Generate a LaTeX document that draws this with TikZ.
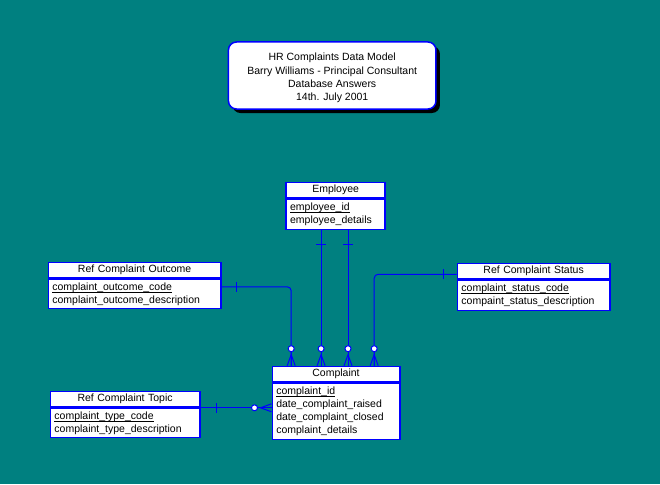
\documentclass[tikz,border=0pt]{standalone}
\usepackage{fontspec}
\setmainfont{Liberation Sans}
\usetikzlibrary{calc,shadows}

\definecolor{tealbg}{RGB}{0,128,128}
\definecolor{erblue}{RGB}{0,0,255}

% underlined key field, rule level with the underscores
\newsavebox{\keybox}
\newcommand{\keyfield}[1]{\sbox{\keybox}{#1}\rlap{\rule[-2.2pt]{\wd\keybox}{0.7pt}}\usebox{\keybox}}

\tikzset{
  ent/.style={draw=erblue, line width=1.5pt, fill=white, anchor=north west,
    inner xsep=4pt, inner ysep=0pt, font=\fontsize{10.5}{13}\selectfont},
  hdr/.style={ent, align=center, minimum height=15.6pt},
  body/.style={ent, align=left},
  rel/.style={erblue, line width=1pt},
  zeromany/.pic={
    \draw (-4pt,0pt) -- (0pt,11pt) -- (4pt,0pt);
    \draw (0pt,0pt) -- (0pt,14pt);
    \draw[fill=white] (0pt,17pt) circle (3pt);
  },
  onebar/.pic={\draw (-5pt,0pt) -- (5pt,0pt);}
}

\begin{document}
\begin{tikzpicture}[x=1pt,y=-1pt]
  % background
  \fill[tealbg] (0,0) rectangle (660,484);
  \useasboundingbox (0,0) rectangle (660,484);

  % title
  \node[draw=erblue, line width=1.5pt, fill=white, rounded corners=8pt,
    general shadow={fill=black, shadow xshift=4pt, shadow yshift=-4pt},
    minimum width=207.5pt, minimum height=67pt, align=center,
    font=\fontsize{10.5}{13.3}\selectfont] (title) at (332.2,75.5)
    {\rule{0pt}{12.5pt}HR Complaints Data Model\\Barry Williams - Principal Consultant\\Database Answers\\14th. July 2001};

  % entities
  \node[hdr, text width=91pt] (emp) at (285.4,181.7) {Employee};
  \node[body, text width=91pt, minimum height=30pt] (empb) at (emp.south west)
    {\keyfield{employee\_id}\\employee\_details};

  \node[hdr, text width=164.5pt] (out) at (47.6,261.7) {Ref Complaint Outcome};
  \node[body, text width=164.5pt, minimum height=29pt] (outb) at (out.south west)
    {\keyfield{complaint\_outcome\_code}\\complaint\_outcome\_description};

  \node[hdr, text width=144.3pt] (sts) at (456.7,262.7) {Ref Complaint Status};
  \node[body, text width=144.3pt, minimum height=30pt] (stsb) at (sts.south west)
    {\keyfield{complaint\_status\_code}\\compaint\_status\_description};

  \node[hdr, text width=119.5pt] (cmp) at (271.5,365.7) {Complaint};
  \node[body, text width=119.5pt, minimum height=55.7pt] (cmpb) at (cmp.south west)
    {\keyfield{complaint\_id}\\date\_complaint\_raised\\date\_complaint\_closed\\complaint\_details};

  \node[hdr, text width=141.3pt] (top) at (49.7,390.7) {Ref Complaint Topic};
  \node[body, text width=141.3pt, minimum height=29pt] (topb) at (top.south west)
    {\keyfield{complaint\_type\_code}\\complaint\_type\_description};

  % connector ends
  \coordinate (o1) at ($(outb.north east)+(0,8)$);
  \coordinate (c1) at ($(cmp.north west)+(19.7,0)$);
  \coordinate (e1) at ($(empb.south west)+(35.7,0)$);
  \coordinate (c2) at (e1 |- cmp.north);
  \coordinate (e2) at ($(empb.south west)+(62.6,0)$);
  \coordinate (c3) at (e2 |- cmp.north);
  \coordinate (s1) at ($(sts.west)+(0,3)$);
  \coordinate (c4) at ($(cmp.north west)+(102.7,0)$);
  \coordinate (t1) at (top.south east);
  \coordinate (c5) at (t1 -| cmp.west);

  % relationships
  \draw[rel, rounded corners=4pt] (o1) -| (c1);
  \draw[rel] (e1) -- (c2);
  \draw[rel] (e2) -- (c3);
  \draw[rel, rounded corners=4pt] (s1) -| (c4);
  \draw[rel] (t1) -- (c5);

  % one ends
  \pic[rel, rotate=90] at ($(o1)+(14.4,0)$) {onebar};
  \pic[rel] at ($(e1)+(0,13.7)$) {onebar};
  \pic[rel] at ($(e2)+(0,13.7)$) {onebar};
  \pic[rel, rotate=90] at ($(s1)+(-13.1,0)$) {onebar};
  \pic[rel, rotate=90] at ($(t1)+(15.6,0)$) {onebar};

  % zero or many ends
  \pic[rel] at (c1) {zeromany};
  \pic[rel] at (c2) {zeromany};
  \pic[rel] at (c3) {zeromany};
  \pic[rel] at (c4) {zeromany};
  \pic[rel, rotate=90] at (c5) {zeromany};
\end{tikzpicture}
\end{document}
